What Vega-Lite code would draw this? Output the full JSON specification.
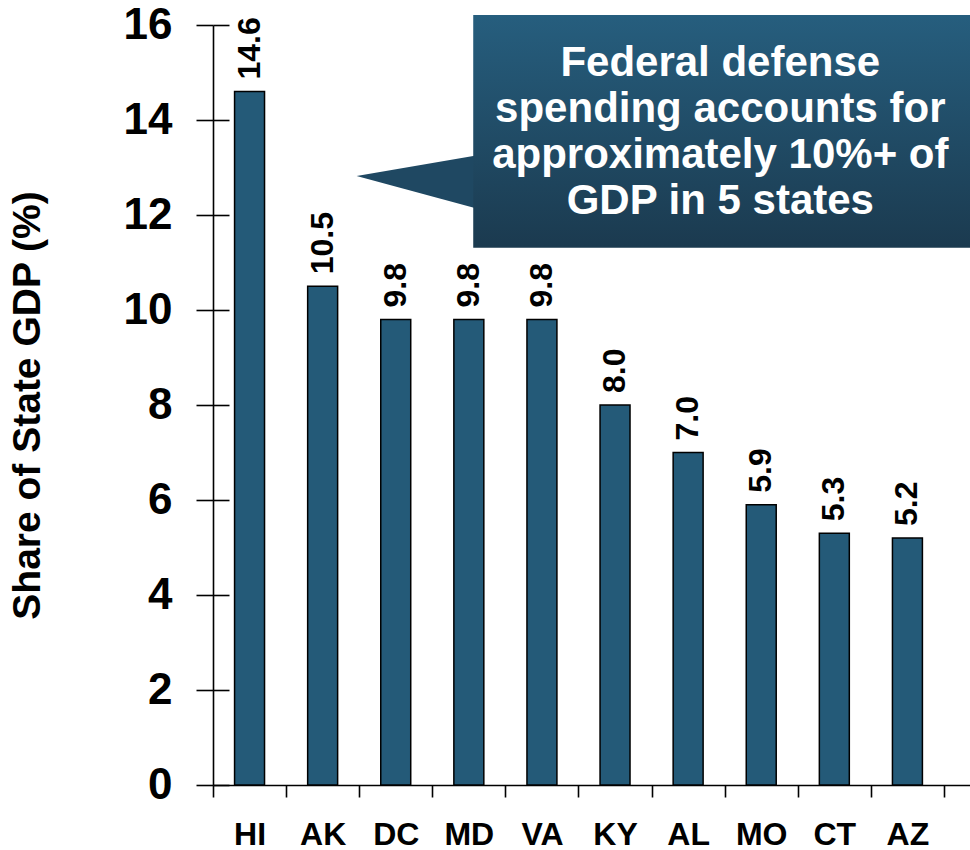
{
  "$schema": "https://vega.github.io/schema/vega-lite/v6.json",
  "autosize": {"type": "none"},
  "width": 757,
  "height": 760,
  "padding": {"left": 213, "top": 25, "right": 0, "bottom": 65},
  "background": "white",
  "config": {
    "font": "Liberation Sans",
    "view": {"stroke": null},
    "axis": {"labelFont": "Liberation Sans", "titleFont": "Liberation Sans", "labelColor": "black", "titleColor": "black", "tickColor": "black", "domainColor": "black", "grid": false}
  },
  "datasets": {
    "states": [
      {"state": "HI", "share": 14.6},
      {"state": "AK", "share": 10.5},
      {"state": "DC", "share": 9.8},
      {"state": "MD", "share": 9.8},
      {"state": "VA", "share": 9.8},
      {"state": "KY", "share": 8.0},
      {"state": "AL", "share": 7.0},
      {"state": "MO", "share": 5.9},
      {"state": "CT", "share": 5.3},
      {"state": "AZ", "share": 5.2}
    ],
    "pointer": [
      {"px": 1.965, "py": 12.82, "py2": 12.82},
      {"px": 3.62, "py": 13.26, "py2": 12.13}
    ]
  },
  "resolve": {"scale": {"x": "independent"}, "axis": {"x": "independent", "y": "independent"}},
  "layer": [
    {
      "data": {"name": "states"},
      "mark": {"type": "bar", "width": {"band": 0.41}, "fill": "#245a78", "stroke": "black", "strokeWidth": 1.5},
      "encoding": {
        "x": {
          "field": "state", "type": "nominal", "sort": null,
          "scale": {"type": "band", "paddingInner": 0, "paddingOuter": 0.178, "align": 0},
          "axis": {"title": null, "tickBand": "extent", "labelAngle": 0, "labelFontSize": 32, "labelFontWeight": "bold", "labelPadding": 22, "tickSize": 12, "tickWidth": 1.6, "domainWidth": 1.6}
        },
        "y": {
          "field": "share", "type": "quantitative",
          "scale": {"domain": [0, 16], "nice": false},
          "axis": {"title": "Share of State GDP (%)", "values": [0, 2, 4, 6, 8, 10, 12, 14, 16], "tickSize": 17, "tickWidth": 1.6, "domainWidth": 1.6, "labelFontSize": 44, "labelFontWeight": "bold", "labelPadding": 24, "labelFlush": false, "labelOverlap": false, "titleFontSize": 39, "titleFontWeight": "bold", "titlePadding": 76}
        }
      }
    },
    {
      "data": {"name": "states"},
      "mark": {"type": "text", "angle": 270, "align": "left", "baseline": "middle", "dx": 12, "fontSize": 32, "fontWeight": "bold", "color": "black"},
      "encoding": {
        "x": {"field": "state", "type": "nominal", "sort": null, "scale": {"type": "band", "paddingInner": 0, "paddingOuter": 0.178, "align": 0}, "axis": null},
        "y": {
          "field": "share", "type": "quantitative",
          "scale": {"domain": [0, 16], "nice": false},
          "axis": {"orient": "left", "offset": -16, "tickSize": 16, "tickWidth": 1.6, "domain": false, "labels": false, "title": null, "values": [0, 2, 4, 6, 8, 10, 12, 14, 16]}
        },
        "text": {"field": "share", "type": "quantitative", "format": ".1f"}
      }
    },
    {
      "data": {"name": "pointer"},
      "mark": {"type": "area", "color": "#1f4862", "opacity": 1},
      "encoding": {
        "x": {"field": "px", "type": "quantitative", "scale": {"domain": [0, 10.356], "nice": false, "zero": false}, "axis": null},
        "y": {"field": "py", "type": "quantitative", "scale": {"domain": [0, 16], "nice": false}, "axis": null},
        "y2": {"field": "py2"}
      }
    },
    {
      "data": {"values": [{}]},
      "mark": {"type": "rect", "fill": {"gradient": "linear", "x1": 0, "y1": 0, "x2": 0, "y2": 1, "stops": [{"offset": 0, "color": "#265e7e"}, {"offset": 1, "color": "#1b3a4f"}]}},
      "encoding": {
        "x": {"datum": 3.56, "type": "quantitative", "scale": {"domain": [0, 10.356], "nice": false, "zero": false}, "axis": null},
        "x2": {"datum": 10.356},
        "y": {"datum": 16.21, "type": "quantitative", "scale": {"domain": [0, 16], "nice": false}, "axis": null},
        "y2": {"datum": 11.31}
      }
    },
    {
      "data": {"values": [{}]},
      "mark": {"type": "text", "text": ["Federal defense", "spending accounts for", "approximately 10%+ of", "GDP in 5 states"], "align": "center", "baseline": "alphabetic", "fontSize": 42, "fontWeight": "bold", "color": "white", "lineHeight": 46},
      "encoding": {
        "x": {"datum": 6.94, "type": "quantitative", "scale": {"domain": [0, 10.356], "nice": false, "zero": false}, "axis": null},
        "y": {"datum": 14.926, "type": "quantitative", "scale": {"domain": [0, 16], "nice": false}, "axis": null}
      }
    }
  ]
}
